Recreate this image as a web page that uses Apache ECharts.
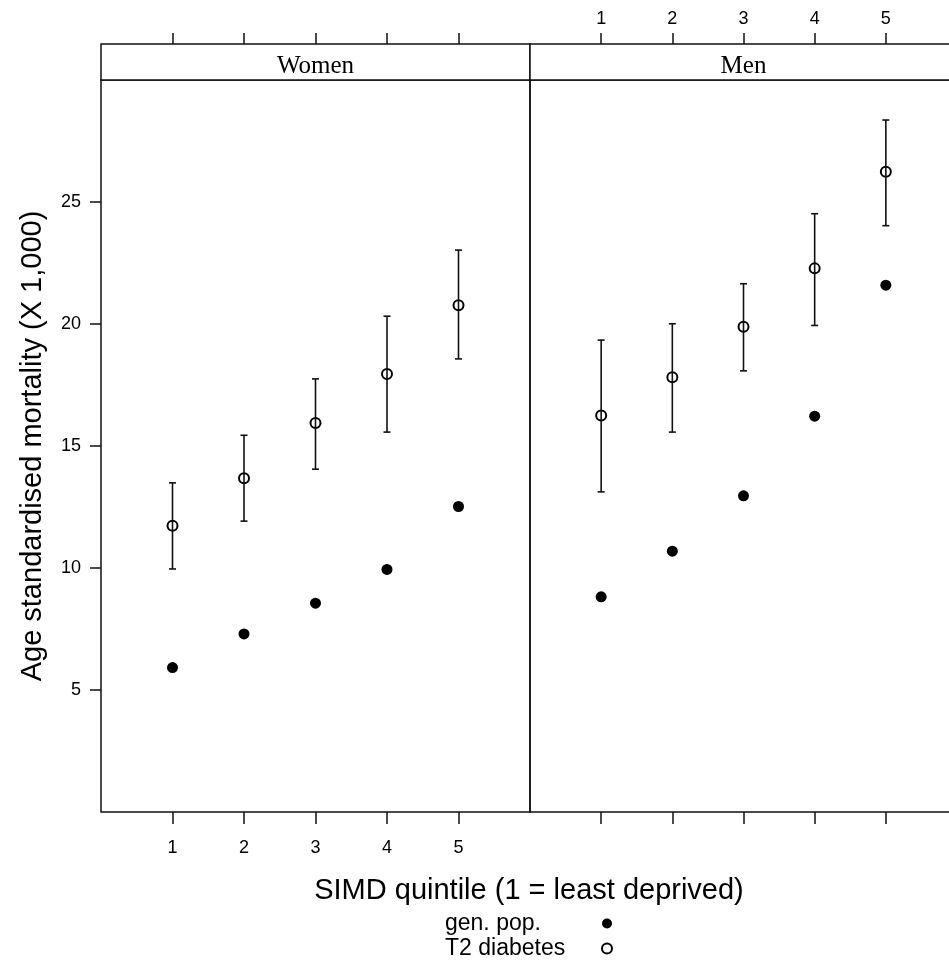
<!DOCTYPE html>
<html>
<head>
<meta charset="utf-8">
<script src="https://cdn.jsdelivr.net/npm/echarts@6/dist/echarts.min.js"></script>
<style>
html,body{margin:0;padding:0;background:#fff;}
#chart{width:949px;height:965px;}
</style>
</head>
<body>
<div id="chart"></div>
<script>
// ---- data ----
var quintiles = [1, 2, 3, 4, 5];
var panels = ['Women', 'Men'];
var womenGen = [5.92, 7.30, 8.56, 9.94, 12.52];
var womenT2 = [11.73, 13.68, 15.94, 17.95, 20.77];
var womenT2Lo = [9.96, 11.92, 14.05, 15.57, 18.57];
var womenT2Hi = [13.49, 15.44, 17.75, 20.32, 23.03];
var menGen = [8.82, 10.69, 12.96, 16.22, 21.59];
var menT2 = [16.25, 17.82, 19.89, 22.28, 26.24];
var menT2Lo = [13.12, 15.57, 18.08, 19.94, 24.03];
var menT2Hi = [19.34, 20.01, 21.65, 24.52, 28.36];
var yTicks = [5, 10, 15, 20, 25];
var seriesNames = ['gen. pop.', 'T2 diabetes'];
var xTitle = 'SIMD quintile (1 = least deprived)';
var yTitle = 'Age standardised mortality (X 1,000)';

var SANS = '"Liberation Sans", Arial, sans-serif';
var SERIF = '"Liberation Serif", "Times New Roman", serif';
var INK = '#111';

function pts(xs, ys) { return xs.map(function (x, i) { return [x, ys[i]]; }); }
function bars(xs, lo, hi) { return xs.map(function (x, i) { return [x, lo[i], hi[i]]; }); }

function renderErr(params, api) {
  var x = api.value(0), lo = api.value(1), hi = api.value(2);
  var a = api.coord([x, lo]), b = api.coord([x, hi]);
  var w = 3.5;
  var st = { stroke: INK, lineWidth: 1.6 };
  return {
    type: 'group',
    children: [
      { type: 'line', shape: { x1: a[0], y1: a[1], x2: b[0], y2: b[1] }, style: st },
      { type: 'line', shape: { x1: a[0] - w, y1: a[1], x2: a[0] + w, y2: a[1] }, style: st },
      { type: 'line', shape: { x1: b[0] - w, y1: b[1], x2: b[0] + w, y2: b[1] }, style: st }
    ]
  };
}

function xAxisDef(gridIndex, position, showLabels, offset) {
  return {
    type: 'value', gridIndex: gridIndex, position: position, offset: offset || 0,
    min: 0, max: 6,
    axisLine: { show: false },
    splitLine: { show: false },
    axisTick: { show: true, inside: false, length: position === 'top' ? 11 : 12,
      customValues: quintiles, lineStyle: { color: INK, width: 1.5 } },
    axisLabel: { show: showLabels, customValues: quintiles, color: '#000',
      fontFamily: SANS, fontSize: 18, margin: position === 'top' ? 16 : 27 }
  };
}

function yAxisDef(gridIndex, show) {
  return {
    type: 'value', gridIndex: gridIndex, min: 0, max: 30,
    axisLine: { show: false },
    splitLine: { show: false },
    axisTick: { show: show, inside: false, length: 11, customValues: yTicks,
      lineStyle: { color: INK, width: 1.5 } },
    axisLabel: { show: show, customValues: yTicks, color: '#000',
      fontFamily: SANS, fontSize: 18, margin: 20 }
  };
}

var option = {
  animation: false,
  backgroundColor: '#fff',
  grid: [
    { left: 101, top: 80, width: 429, height: 732, show: true, borderColor: INK, borderWidth: 1.5,
      backgroundColor: 'transparent', outerBoundsMode: 'none', containLabel: false },
    { left: 530, top: 80, width: 427, height: 732, show: true, borderColor: INK, borderWidth: 1.5,
      backgroundColor: 'transparent', outerBoundsMode: 'none', containLabel: false }
  ],
  xAxis: [
    xAxisDef(0, 'bottom', true),
    xAxisDef(1, 'bottom', false),
    xAxisDef(0, 'top', false, 36),
    xAxisDef(1, 'top', true, 36)
  ],
  yAxis: [yAxisDef(0, true), yAxisDef(1, false)],
  legend: {
    orient: 'vertical', left: 445, top: 912, align: 'right', padding: 0,
    itemWidth: 10, itemHeight: 10, itemGap: 2,
    selectedMode: false,
    data: [{ name: seriesNames[0], icon: 'circle' }, { name: seriesNames[1], icon: 'emptyCircle' }],
    formatter: function (n) { return '{t|' + n + '}'; },
    textStyle: {
      color: '#000', fontFamily: SANS, fontSize: 23,
      rich: { t: { width: 152, align: 'left', fontSize: 23, lineHeight: 22, fontFamily: SANS, color: '#000' } }
    }
  },
  graphic: [
    { type: 'rect', shape: { x: 101, y: 44, width: 429, height: 36 }, style: { fill: '#fff', stroke: INK, lineWidth: 1.5 }, z: 10 },
    { type: 'rect', shape: { x: 530, y: 44, width: 427, height: 36 }, style: { fill: '#fff', stroke: INK, lineWidth: 1.5 }, z: 10 },
    { type: 'text', x: 315.5, y: 66, style: { text: panels[0], font: '25px ' + SERIF, fill: '#000', textAlign: 'center', textVerticalAlign: 'middle' }, z: 11 },
    { type: 'text', x: 743.5, y: 66, style: { text: panels[1], font: '25px ' + SERIF, fill: '#000', textAlign: 'center', textVerticalAlign: 'middle' }, z: 11 },
    { type: 'text', x: 529, y: 891, style: { text: xTitle, font: '29px ' + SANS, fill: '#000', textAlign: 'center', textVerticalAlign: 'middle' } },
    { type: 'text', x: 33, y: 446, rotation: Math.PI / 2, style: { text: yTitle, font: '29px ' + SANS, fill: '#000', textAlign: 'center', textVerticalAlign: 'middle' } }
  ],
  series: [
    { name: seriesNames[0], type: 'scatter', xAxisIndex: 0, yAxisIndex: 0, symbol: 'circle', symbolSize: 11,
      itemStyle: { color: '#000', opacity: 1 }, data: pts(quintiles, womenGen) },
    { name: seriesNames[1], type: 'scatter', xAxisIndex: 0, yAxisIndex: 0, symbol: 'emptyCircle', symbolSize: 10,
      itemStyle: { color: '#000', borderWidth: 1.3, opacity: 1 }, data: pts(quintiles, womenT2) },
    { type: 'custom', xAxisIndex: 0, yAxisIndex: 0, renderItem: renderErr, z: 3,
      encode: { x: 0, y: [1, 2] }, data: bars(quintiles, womenT2Lo, womenT2Hi) },
    { name: seriesNames[0], type: 'scatter', xAxisIndex: 1, yAxisIndex: 1, symbol: 'circle', symbolSize: 11,
      itemStyle: { color: '#000', opacity: 1 }, data: pts(quintiles, menGen) },
    { name: seriesNames[1], type: 'scatter', xAxisIndex: 1, yAxisIndex: 1, symbol: 'emptyCircle', symbolSize: 10,
      itemStyle: { color: '#000', borderWidth: 1.3, opacity: 1 }, data: pts(quintiles, menT2) },
    { type: 'custom', xAxisIndex: 1, yAxisIndex: 1, renderItem: renderErr, z: 3,
      encode: { x: 0, y: [1, 2] }, data: bars(quintiles, menT2Lo, menT2Hi) }
  ]
};

var chart = echarts.init(document.getElementById('chart'), null, { renderer: 'canvas' });
chart.setOption(option);
</script>
</body>
</html>
